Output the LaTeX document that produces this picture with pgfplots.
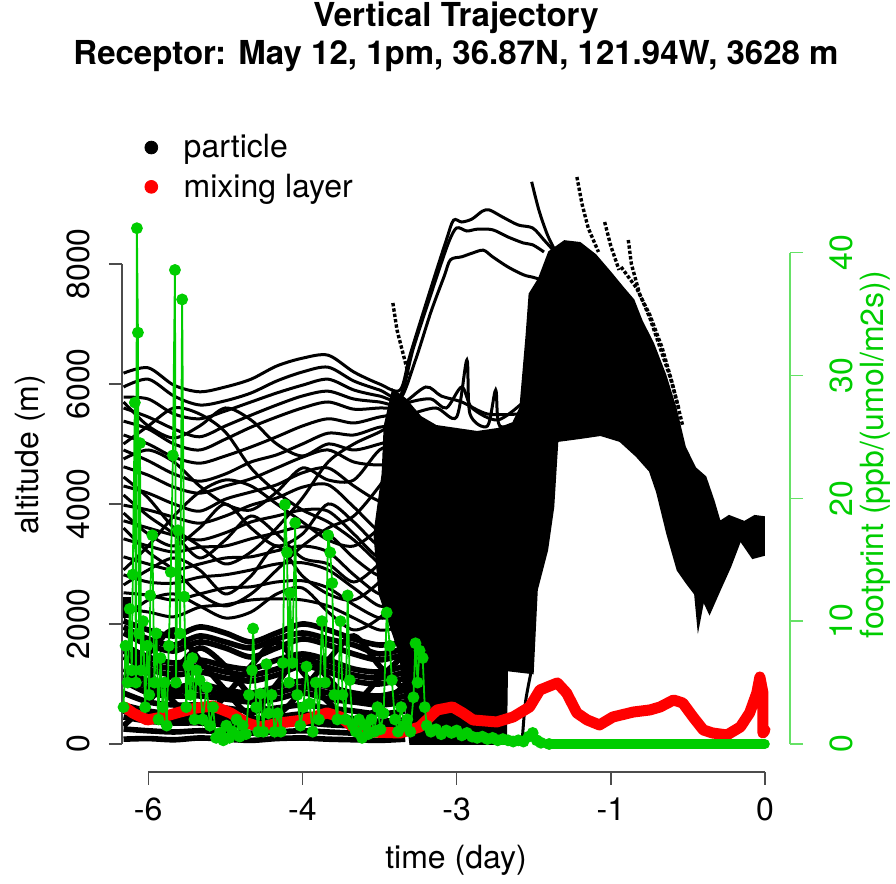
\documentclass[border=0pt]{standalone}
\usepackage{fontspec}
\setmainfont{TeX Gyre Heros}
\usepackage{pgfplots}
\pgfplotsset{compat=1.18}
\definecolor{green3}{RGB}{0,205,0}
\definecolor{mlred}{RGB}{255,0,0}

\begin{document}
\begin{tikzpicture}[x=1pt,y=1pt]
\path[use as bounding box] (0,0) rectangle (448,442);
\pgfplotsset{
  traj/.style={black, line width=1.5pt, no markers, smooth},
  low/.style={black, line width=2.8pt, no markers, smooth},
  fringe/.style={black, line width=1.7pt, densely dotted, no markers},
  frame/.style={scale only axis, width=334pt, height=311pt,
    at={(61pt,56pt)}, anchor=south west,
    xmin=-6.255, xmax=0.243, axis line style={draw=none},
    tick align=outside, major tick length=6.5pt, clip=false,
    ticklabel style={font=\fontsize{16}{19}\selectfont},
    label style={font=\fontsize{16}{19}\selectfont}},
}

% ---------------- particles and mixing layer (left axis) ----------------
\begin{axis}[frame, ymin=-467, ymax=9900,
  xtick={-6,-4.5,-3,-1.5,0}, xticklabels={-6,-4,-3,-1,0}, xtick pos=bottom,
  ytick={0,2000,4000,6000,8000}, yticklabels={0,2000,4000,6000,8000}, ytick pos=left,
  yticklabel style={rotate=90, anchor=south}, yticklabel shift=6pt,
  xticklabel style={anchor=north, yshift=-3pt},
  tick style={black!70, line width=0.7pt},
  xlabel={time (day)}, ylabel={altitude (m)},
  xlabel style={at={(axis description cs:0.5,-0.1415)}, anchor=center},
  ylabel style={at={(axis description cs:-0.1377,0.51)}, anchor=center},
  title={Vertical Trajectory\\Receptor: May 12, 1pm, 36.87N, 121.94W, 3628 m},
  title style={at={(axis description cs:0.5,1.1624)}, anchor=center, align=center,
    font=\bfseries\fontsize{16.5}{19}\selectfont},
  legend style={draw=none, fill=none, at={(axis description cs:0.0337,1.029)},
    anchor=north west, inner sep=0pt, row sep=4.5pt, nodes={inner sep=1pt},
    font=\fontsize{16}{19}\selectfont, cells={anchor=west},
    /tikz/every odd column/.append style={column sep=12pt}},
]
\addlegendimage{only marks, mark=*, mark size=3.2pt, black}
\addlegendentry{particle}
\addlegendimage{only marks, mark=*, mark size=3.2pt, mlred, mark options={fill=mlred, draw=mlred}}
\addlegendentry{mixing layer}

% dense core of the trajectory bundle
\addplot[fill=black, draw=black, line width=1pt] coordinates {
 (-3.45,0) (-3.55,1500) (-3.75,2500) (-3.8,3500) (-3.72,4500) (-3.7,5300) (-3.62,5900)
 (-3.5,5750) (-3.35,5450) (-3.2,5300) (-3.0,5250) (-2.8,5200) (-2.6,5250) (-2.45,5350)
 (-2.38,5600) (-2.32,6800) (-2.29,7500) (-2.2,7750) (-2.1,8200) (-1.95,8380) (-1.8,8350)
 (-1.65,8150) (-1.5,7850) (-1.38,7600) (-1.28,7400) (-1.2,7050) (-1.09,6680) (-0.97,6150)
 (-0.87,5600) (-0.78,4950) (-0.68,4600) (-0.58,4450) (-0.5,4050) (-0.44,3700) (-0.35,3800)
 (-0.2,3700) (-0.1,3800) (-0.01,3780) (-0.01,3150) (-0.12,3100) (-0.24,3400) (-0.34,2950)
 (-0.44,2570) (-0.54,2180) (-0.6,2400) (-0.65,1950) (-0.68,2500) (-0.76,2680) (-0.85,2900)
 (-0.95,3500) (-1.05,4200) (-1.12,4550) (-1.25,4800) (-1.41,5050) (-1.6,5150) (-1.8,5100)
 (-2.02,5050) (-2.06,3950) (-2.12,3230) (-2.22,2570) (-2.26,1180) (-2.51,1230) (-2.52,0)
} -- cycle;

% upper trajectories, continuing to the high branch
\addplot[traj] coordinates {(-6.24,6180) (-6.0,6270) (-5.75,5980) (-5.5,5870) (-5.25,5950) (-5.0,6080) (-4.75,6300) (-4.5,6430) (-4.25,6480) (-4.0,6200) (-3.75,6000) (-3.55,5900)
 (-3.45,6500) (-3.25,7600) (-3.1,8400) (-3.03,8730) (-2.95,8700) (-2.85,8750) (-2.75,8880) (-2.68,8900) (-2.55,8780) (-2.4,8650) (-2.26,8600) (-2.15,8400) (-2.06,8230)};
\addplot[traj] coordinates {(-6.24,5950) (-6.0,6080) (-5.75,5800) (-5.5,5650) (-5.25,5720) (-5.0,5850) (-4.75,6050) (-4.5,6200) (-4.25,6280) (-4.0,6050) (-3.75,5900) (-3.55,5800)
 (-3.42,6600) (-3.22,7650) (-3.08,8350) (-3.0,8600) (-2.9,8550) (-2.8,8580) (-2.65,8570) (-2.5,8450) (-2.35,8350) (-2.26,8320) (-2.15,8200)};
\addplot[traj] coordinates {(-6.24,5780) (-6.0,5750) (-5.75,5500) (-5.5,5420) (-5.25,5550) (-5.0,5700) (-4.75,5850) (-4.5,5980) (-4.25,6080) (-4.0,5900) (-3.75,5800) (-3.55,5750)
 (-3.4,6400) (-3.25,7200) (-3.12,7800) (-3.06,8070) (-2.95,8120) (-2.85,8180) (-2.74,8230) (-2.65,8120) (-2.5,7950) (-2.35,7820) (-2.26,7780) (-2.2,7750)};
\addplot[traj] coordinates {(-6.24,5600) (-6.0,5450) (-5.75,5250) (-5.5,5120) (-5.25,5300) (-5.0,5480) (-4.75,5650) (-4.5,5800) (-4.25,5880) (-4.0,5750) (-3.75,5700) (-3.55,5650)
 (-3.3,5950) (-3.15,5800) (-2.95,5700) (-2.7,5500) (-2.4,5500)};
\addplot[traj] coordinates {(-6.24,5380) (-6.0,5250) (-5.75,5000) (-5.5,4900) (-5.25,5080) (-5.0,5280) (-4.75,5450) (-4.5,5600) (-4.25,5700) (-4.0,5580) (-3.75,5600) (-3.55,5600)
 (-3.45,5700) (-3.25,5750) (-3.1,5600) (-2.95,5950) (-2.85,5600) (-2.6,5400) (-2.35,5700)};
\addplot[traj] coordinates {(-6.24,5150) (-6.0,5000) (-5.75,4780) (-5.5,4680) (-5.25,4800) (-5.0,4950) (-4.75,5120) (-4.5,5300) (-4.25,5420) (-4.0,5350) (-3.75,5450) (-3.55,5500)
 (-3.45,5500) (-3.2,5600) (-3.0,5450) (-2.9,6400) (-2.87,5500) (-2.7,5300) (-2.62,5900) (-2.58,5300) (-2.35,5400)};

% middle trajectories
\addplot[traj] coordinates {(-6.24,4900) (-6.0,4720) (-5.75,4500) (-5.5,4380) (-5.25,4500) (-5.0,4700) (-4.75,4820) (-4.5,5000) (-4.25,5180) (-4.0,5150) (-3.75,5280) (-3.55,5300)};
\addplot[traj] coordinates {(-6.24,4620) (-6.0,4480) (-5.75,4280) (-5.5,4180) (-5.25,4300) (-5.0,4420) (-4.75,4600) (-4.5,4780) (-4.25,4900) (-4.0,4700) (-3.75,4650) (-3.55,4700)};
\addplot[traj] coordinates {(-6.24,4300) (-6.0,4180) (-5.75,4000) (-5.5,3880) (-5.25,4080) (-5.0,4200) (-4.75,4320) (-4.5,4520) (-4.25,4600) (-4.0,4300) (-3.75,4050) (-3.55,4100)};
\addplot[traj] coordinates {(-6.24,3980) (-6.0,3900) (-5.75,3780) (-5.5,3680) (-5.25,3800) (-5.0,3980) (-4.75,4100) (-4.5,4280) (-4.25,4320) (-4.0,3950) (-3.75,3550) (-3.55,3600)};
\addplot[traj] coordinates {(-6.24,3720) (-6.0,3600) (-5.75,3480) (-5.5,3400) (-5.25,3520) (-5.0,3700) (-4.75,3800) (-4.5,3900) (-4.25,3880) (-4.0,3500) (-3.75,3100) (-3.55,3200)};
\addplot[traj] coordinates {(-6.24,3420) (-6.0,3300) (-5.75,3200) (-5.5,3280) (-5.25,3300) (-5.0,3420) (-4.75,3520) (-4.5,3620) (-4.25,3500) (-4.0,3100) (-3.75,2800) (-3.55,2850)};
\addplot[traj] coordinates {(-6.24,3120) (-6.0,3000) (-5.75,2900) (-5.5,3000) (-5.25,3100) (-5.0,3120) (-4.75,3220) (-4.5,3300) (-4.25,3200) (-4.0,2820) (-3.75,2500) (-3.55,2550)};
\addplot[traj] coordinates {(-6.24,2820) (-6.0,2700) (-5.75,2680) (-5.5,2780) (-5.25,2820) (-5.0,2900) (-4.75,3000) (-4.5,3020) (-4.25,2900) (-4.0,2600) (-3.75,2300) (-3.55,2350)};
\addplot[traj] coordinates {(-6.24,2520) (-6.0,2480) (-5.75,2400) (-5.5,2500) (-5.25,2600) (-5.0,2620) (-4.75,2700) (-4.5,2720) (-4.25,2600) (-4.0,2320) (-3.75,2100) (-3.55,2150)};
\addplot[traj] coordinates {(-6.24,2250) (-6.0,2200) (-5.75,2120) (-5.5,2280) (-5.25,2320) (-5.0,2400) (-4.75,2420) (-4.5,2400) (-4.25,2300) (-4.0,2100) (-3.75,1900) (-3.55,1950)};
% crossing trajectories
\addplot[traj] coordinates {(-6.24,4450) (-6.0,4100) (-5.75,3600) (-5.5,3300) (-5.25,3000) (-5.0,3200) (-4.75,3600) (-4.5,4100) (-4.25,4700) (-4.0,5000) (-3.75,5200) (-3.55,5400)};
\addplot[traj] coordinates {(-6.24,2900) (-6.0,3300) (-5.75,3800) (-5.5,4200) (-5.25,4400) (-5.0,4300) (-4.75,4000) (-4.5,3700) (-4.25,3400) (-4.0,3300) (-3.75,3600) (-3.55,4000)};
\addplot[traj] coordinates {(-6.24,5000) (-6.0,5300) (-5.75,5600) (-5.5,5500) (-5.25,5200) (-5.0,4600) (-4.75,4200) (-4.5,3900) (-4.25,3700) (-4.0,3400) (-3.75,3000) (-3.55,2700)};
\addplot[traj] coordinates {(-6.24,3600) (-6.0,3200) (-5.75,2900) (-5.5,2500) (-5.25,2300) (-5.0,2500) (-4.75,2900) (-4.5,3300) (-4.25,3600) (-4.0,3800) (-3.75,4300) (-3.55,4800)};
\addplot[traj] coordinates {(-6.24,5700) (-6.0,5300) (-5.75,5100) (-5.5,5300) (-5.25,5600) (-5.0,5400) (-4.75,5000) (-4.5,4800) (-4.25,5000) (-4.0,4900) (-3.75,5000) (-3.55,5100)};
\addplot[traj] coordinates {(-6.24,4750) (-6.0,4900) (-5.75,4700) (-5.5,4300) (-5.25,4000) (-5.0,3900) (-4.75,4200) (-4.5,4600) (-4.25,4400) (-4.0,4400) (-3.75,4900) (-3.55,5000)};
\addplot[traj] coordinates {(-6.24,3850) (-6.0,3500) (-5.75,3300) (-5.5,3600) (-5.25,4000) (-5.0,3600) (-4.75,3300) (-4.5,3500) (-4.25,4000) (-4.0,3700) (-3.75,3300) (-3.55,3400)};
\addplot[traj] coordinates {(-6.24,2650) (-6.0,2900) (-5.75,3100) (-5.5,2900) (-5.25,2500) (-5.0,2800) (-4.75,3300) (-4.5,2800) (-4.25,2500) (-4.0,2400) (-3.75,2700) (-3.55,3100)};
\addplot[traj] coordinates {(-6.24,2100) (-6.0,2400) (-5.75,2500) (-5.5,2300) (-5.25,2100) (-5.0,2200) (-4.75,2500) (-4.5,2600) (-4.25,2200) (-4.0,1900) (-3.75,2100) (-3.55,2500)};
\addplot[traj] coordinates {(-6.24,4150) (-6.0,3800) (-5.75,3500) (-5.5,3100) (-5.25,3400) (-5.0,3800) (-4.75,3500) (-4.5,3100) (-4.25,3000) (-4.0,2700) (-3.75,3000) (-3.55,3300)};

% low trajectories
\addplot[low] coordinates {(-6.24,2050) (-6.0,1900) (-5.75,1800) (-5.5,1950) (-5.25,1850) (-5.0,1700) (-4.75,1850) (-4.5,2000) (-4.25,1900) (-4.0,1750) (-3.75,1650) (-3.5,1700)};
\addplot[low] coordinates {(-6.24,1950) (-6.0,1750) (-5.75,1650) (-5.5,1800) (-5.25,1700) (-5.0,1600) (-4.75,1750) (-4.5,1850) (-4.25,1750) (-4.0,1650) (-3.75,1500) (-3.5,1600)};
\addplot[low] coordinates {(-6.24,1850) (-6.0,1650) (-5.75,1550) (-5.5,1700) (-5.25,1600) (-5.0,1450) (-4.75,1600) (-4.5,1750) (-4.25,1650) (-4.0,1500) (-3.75,1400) (-3.5,1500)};
\addplot[low] coordinates {(-6.24,1650) (-6.0,1450) (-5.75,1350) (-5.5,1400) (-5.25,1300) (-5.0,1250) (-4.75,1400) (-4.5,1500) (-4.25,1400) (-4.0,1250) (-3.75,1200) (-3.5,1300)};
\addplot[low] coordinates {(-6.24,1550) (-6.0,1350) (-5.75,1250) (-5.5,1300) (-5.25,1200) (-5.0,1150) (-4.75,1250) (-4.5,1400) (-4.25,1300) (-4.0,1150) (-3.75,1100) (-3.5,1200)};
\addplot[low] coordinates {(-6.24,1450) (-6.0,1250) (-5.75,1150) (-5.5,1200) (-5.25,1100) (-5.0,1050) (-4.75,1150) (-4.5,1300) (-4.25,1200) (-4.0,1050) (-3.75,1000) (-3.5,1100)};
\addplot[low] coordinates {(-6.24,1250) (-6.0,1050) (-5.75,950) (-5.5,1000) (-5.25,900) (-5.0,850) (-4.75,950) (-4.5,1050) (-4.25,950) (-4.0,850) (-3.75,800) (-3.5,900)};
\addplot[low] coordinates {(-6.24,1150) (-6.0,950) (-5.75,880) (-5.5,900) (-5.25,820) (-5.0,780) (-4.75,850) (-4.5,950) (-4.25,850) (-4.0,780) (-3.75,720) (-3.5,800)};
\addplot[low] coordinates {(-6.24,1050) (-6.0,850) (-5.75,800) (-5.5,800) (-5.25,750) (-5.0,700) (-4.75,750) (-4.5,850) (-4.25,750) (-4.0,700) (-3.75,650) (-3.5,700)};
\addplot[low] coordinates {(-6.24,850) (-6.0,700) (-5.75,650) (-5.5,650) (-5.25,600) (-5.0,550) (-4.75,600) (-4.5,650) (-4.25,600) (-4.0,550) (-3.75,500) (-3.5,550)};
\addplot[low] coordinates {(-6.24,650) (-6.0,550) (-5.75,500) (-5.5,500) (-5.25,450) (-5.0,420) (-4.75,450) (-4.5,500) (-4.25,450) (-4.0,420) (-3.75,380) (-3.5,400)};
\addplot[low] coordinates {(-6.24,550) (-6.0,460) (-5.75,420) (-5.5,430) (-5.25,380) (-5.0,360) (-4.75,390) (-4.5,430) (-4.25,380) (-4.0,360) (-3.75,330) (-3.5,350)};
\addplot[low] coordinates {(-6.24,450) (-6.0,380) (-5.75,350) (-5.5,350) (-5.25,320) (-5.0,300) (-4.75,320) (-4.5,350) (-4.25,320) (-4.0,300) (-3.75,280) (-3.5,300)};
\addplot[low] coordinates {(-6.24,250) (-6.0,220) (-5.75,200) (-5.5,220) (-5.25,200) (-5.0,180) (-4.75,200) (-4.5,220) (-4.25,200) (-4.0,180) (-3.75,170) (-3.5,180)};
\addplot[low] coordinates {(-6.24,80) (-6.0,90) (-5.75,70) (-5.5,100) (-5.25,80) (-5.0,60) (-4.75,90) (-4.5,100) (-4.25,80) (-4.0,70) (-3.75,60) (-3.5,80)};
\addplot[low] coordinates {(-6.24,300) (-6.0,700) (-5.75,1200) (-5.5,1600) (-5.25,1300) (-5.0,800) (-4.75,500) (-4.5,900) (-4.25,1400) (-4.0,1800) (-3.75,1300) (-3.5,900)};
\addplot[low] coordinates {(-6.24,1700) (-6.0,1200) (-5.75,700) (-5.5,400) (-5.25,800) (-5.0,1300) (-4.75,1700) (-4.5,1200) (-4.25,700) (-4.0,400) (-3.75,600) (-3.5,1000)};
\addplot[low] coordinates {(-6.24,1000) (-6.0,1500) (-5.75,1900) (-5.5,1400) (-5.25,900) (-5.0,500) (-4.75,1000) (-4.5,1500) (-4.25,1100) (-4.0,700) (-3.75,1100) (-3.5,1500)};
\addplot[black, line width=5pt] coordinates {(-6.22,2100) (-6.22,2450)};

% near-vertical descent and scattered fringes
\addplot[traj] coordinates {(-2.27,1250) (-2.33,700) (-2.36,100)};
\addplot[traj] coordinates {(-2.27,9370) (-2.2,8900) (-2.12,8500) (-2.05,8250)};
\addplot[fringe] coordinates {(-3.62,7350) (-3.58,6900) (-3.52,6500) (-3.46,6100)};
\addplot[fringe] coordinates {(-1.83,9450) (-1.78,9000) (-1.72,8600) (-1.62,8200)};
\addplot[fringe] coordinates {(-1.56,8700) (-1.5,8300) (-1.42,7900)};
\addplot[fringe] coordinates {(-1.33,8400) (-1.3,8000) (-1.22,7500) (-1.12,7100) (-1.02,6600) (-0.92,6100) (-0.84,5600)};
\addplot[fringe] coordinates {(-1.4,7950) (-1.25,7600) (-1.12,7150) (-1.0,6600) (-0.9,6000) (-0.8,5300)};

% mixing layer height
\addplot[mlred, line width=5.5pt, line join=round, line cap=round, no markers] coordinates {
 (-6.23,617) (-6.15,517) (-6.01,400) (-5.86,450) (-5.69,533) (-5.53,600) (-5.37,633) (-5.20,517)
 (-5.04,350) (-4.91,283) (-4.72,350) (-4.49,400) (-4.26,517) (-4.13,450) (-4.01,283) (-3.84,200)
 (-3.55,183) (-3.36,283) (-3.19,567) (-3.04,617) (-2.94,517) (-2.84,400) (-2.61,367) (-2.45,450)
 (-2.29,617) (-2.19,900) (-2.02,1017) (-1.93,850) (-1.83,517) (-1.73,400) (-1.61,317) (-1.48,450)
 (-1.28,533) (-1.12,567) (-1.02,617) (-0.89,733) (-0.80,683) (-0.70,450) (-0.60,233) (-0.51,183)
 (-0.37,150) (-0.24,283) (-0.15,517) (-0.08,850) (-0.05,1117) (-0.02,850) (-0.02,183) (0.0,233)};

% axis lines spanning the tick range only
\draw[black!70, line width=0.7pt] (axis cs:-6.255,0) -- (axis cs:-6.255,8000);
\draw[black!70, line width=0.7pt] (axis cs:-6,-467) -- (axis cs:0,-467);
\end{axis}

% ---------------- footprint (right axis) ----------------
\begin{axis}[frame, ymin=-2.28, ymax=48.37, hide x axis,
  ytick pos=right, ytick={0,10,20,30,40}, yticklabels={0,10,20,30,40},
  yticklabel style={rotate=90, anchor=north, text=green3}, yticklabel shift=10pt,
  tick style={green3!60, line width=0.7pt},
  ylabel={footprint (ppb/(umol/m2s))},
  ylabel style={at={(axis description cs:1.127,0.51)}, anchor=center, text=green3},
]
\addplot[green3, line width=0.9pt, mark=*, mark size=2.5pt, mark options={solid, fill=green3, draw=green3}] coordinates {
 (-6.24,3) (-6.22,8) (-6.20,5) (-6.18,11) (-6.16,6) (-6.15,13.8) (-6.13,27.8) (-6.12,5) (-6.11,42)
 (-6.10,33.5) (-6.09,9) (-6.08,24.5) (-6.07,6) (-6.05,10) (-6.03,3) (-6.01,8) (-5.99,4) (-5.98,12.1)
 (-5.96,17) (-5.94,5) (-5.92,9) (-5.90,2) (-5.88,7) (-5.86,3) (-5.84,5) (-5.82,1.5) (-5.80,8)
 (-5.78,14) (-5.76,23.5) (-5.74,38.6) (-5.73,5) (-5.71,17.4) (-5.69,9) (-5.67,36.2) (-5.65,12)
 (-5.63,3) (-5.61,6.4) (-5.59,4) (-5.57,7) (-5.55,2) (-5.53,6) (-5.50,5.2) (-5.47,2) (-5.43,4.6)
 (-5.40,1.5) (-5.37,3) (-5.34,0.5) (-5.30,0.9) (-5.27,0.3) (-5.24,1.5) (-5.21,0.5) (-5.18,1)
 (-5.14,2) (-5.11,0.6) (-5.08,1.5) (-5.05,0.8) (-5.02,4) (-4.99,6) (-4.98,9.4) (-4.95,3) (-4.93,1)
 (-4.91,4.1) (-4.88,1) (-4.85,6.5) (-4.83,2.5) (-4.80,4) (-4.77,1) (-4.74,2.5) (-4.71,1) (-4.69,6.6)
 (-4.67,19.5) (-4.65,15.6) (-4.63,5) (-4.62,12.3) (-4.60,6.6) (-4.57,18) (-4.55,4) (-4.52,1.5)
 (-4.49,3) (-4.46,6.3) (-4.43,3.3) (-4.40,1) (-4.37,5) (-4.34,2) (-4.31,10) (-4.28,5) (-4.25,17)
 (-4.23,15.6) (-4.21,13.1) (-4.19,4) (-4.16,2) (-4.13,10) (-4.11,4) (-4.08,2) (-4.06,12.1) (-4.04,5.2)
 (-4.01,1.5) (-3.98,1) (-3.95,2) (-3.92,0.5) (-3.89,1.5) (-3.86,0.8) (-3.83,2) (-3.80,1) (-3.77,3)
 (-3.74,1.2) (-3.71,2.5) (-3.68,10.7) (-3.65,8) (-3.63,5.2) (-3.60,2) (-3.57,1) (-3.54,3) (-3.51,1.5)
 (-3.48,2) (-3.45,1) (-3.42,3.8) (-3.40,8.2) (-3.38,5) (-3.36,7.6) (-3.33,7) (-3.31,3) (-3.29,1.5)
 (-3.25,1) (-3.20,1.2) (-3.15,0.8) (-3.10,1.1) (-3.05,0.9) (-3.00,1.1) (-2.95,0.7) (-2.90,0.9)
 (-2.85,0.6) (-2.80,0.5) (-2.75,0.6) (-2.70,0.4) (-2.65,0.5) (-2.60,0.3) (-2.55,0.4) (-2.50,0.3)
 (-2.45,0.2) (-2.40,0.3) (-2.35,0.2) (-2.30,0.6) (-2.26,0.9) (-2.22,0.3) (-2.18,0.1) (-2.10,0)};
\addplot[green3, line width=4.8pt, line cap=round, no markers] coordinates {(-2.12,0) (0,0)};
\draw[green3!60, line width=0.7pt] (axis cs:0.243,0) -- (axis cs:0.243,40);
\end{axis}
\end{tikzpicture}
\end{document}
